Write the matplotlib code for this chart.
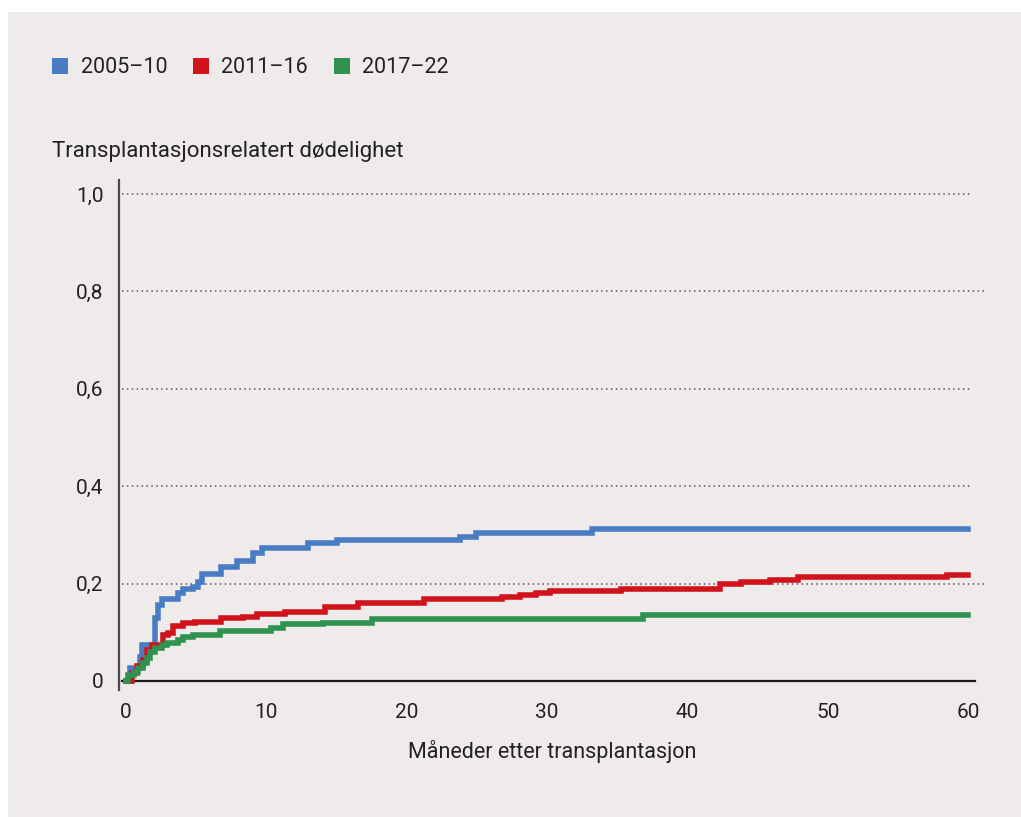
import matplotlib
matplotlib.use("Agg")
import matplotlib.pyplot as plt
from matplotlib.patches import Patch, Rectangle

# Cumulative transplant-related mortality
blue_t = [0, 0.3, 1.0, 1.15, 2.07, 2.3, 2.55, 3.7, 4.06, 4.8, 5.1, 5.4, 6.8, 7.9,
          9.05, 9.7, 13.0, 15.0, 23.8, 24.9, 33.2, 60]
blue_v = [0, 0.027, 0.05, 0.074, 0.13, 0.156, 0.168, 0.18, 0.188, 0.193, 0.203, 0.22,
          0.234, 0.247, 0.262, 0.273, 0.284, 0.29, 0.295, 0.304, 0.312, 0.312]

red_t = [0, 0.4, 0.8, 1.2, 1.5, 1.85, 2.6, 3.0, 3.35, 4.06, 4.9, 6.8, 8.3, 9.3, 11.3,
         14.2, 16.5, 21.2, 26.8, 28.1, 29.2, 30.2, 35.3, 42.3, 43.8, 45.9, 47.9, 58.5, 60]
red_v = [0, 0.016, 0.03, 0.043, 0.064, 0.074, 0.094, 0.098, 0.113, 0.119, 0.122, 0.129,
         0.132, 0.137, 0.142, 0.152, 0.16, 0.168, 0.172, 0.177, 0.18, 0.185, 0.189,
         0.199, 0.204, 0.207, 0.213, 0.218, 0.218]

green_t = [0, 0.15, 0.6, 0.85, 1.2, 1.5, 1.7, 2.07, 2.55, 2.9, 3.7, 4.06, 4.8, 6.7,
           10.3, 11.2, 14.0, 17.5, 36.8, 60]
green_v = [0, 0.012, 0.019, 0.027, 0.037, 0.047, 0.06, 0.067, 0.074, 0.078, 0.084, 0.09,
           0.094, 0.102, 0.108, 0.117, 0.119, 0.127, 0.136, 0.136]

labels = ["2005–10", "2011–16", "2017–22"]
colors = ["#4a7cc4", "#d1131d", "#2f9250"]

y_ticks = [0, 0.2, 0.4, 0.6, 0.8, 1.0]
y_ticklabels = ["0", "0,2", "0,4", "0,6", "0,8", "1,0"]
x_ticks = [0, 10, 20, 30, 40, 50, 60]

bg = "#eeebea"
plt.rcParams["font.family"] = ["Roboto", "DejaVu Sans"]

W, H = 1021, 817
fig = plt.figure(figsize=(W / 100, H / 100), dpi=100, facecolor="white")
fig.patches.append(Rectangle((8 / W, 0), 1, 1 - 12 / H, transform=fig.transFigure,
                             facecolor=bg, edgecolor="none", zorder=-10))

ax = fig.add_axes([119 / W, (H - 690) / H, (985 - 119) / W, (690 - 180) / H])
ax.patch.set_alpha(0)
ax.set_xlim(-0.5, 61.2)
ax.set_ylim(-0.0185, 1.029)

for s in ["top", "right", "bottom"]:
    ax.spines[s].set_visible(False)
ax.spines["left"].set_color("#4a4a4a")
ax.spines["left"].set_linewidth(1.6)

# dotted gridlines
for y in y_ticks[1:]:
    xr = 61.2 if y in (0.2, 0.8) else 60.3
    ax.plot([-0.3, xr], [y, y], color="#555555", lw=1.1, ls=(0, (1, 2.2)), zorder=1)
ax.plot([-0.3, 60.5], [0, 0], color="#1a1a1a", lw=1.6, zorder=2)

for t, v, c in zip([blue_t, red_t, green_t], [blue_v, red_v, green_v], colors):
    ax.step(t, v, where="post", color=c, lw=4.0, solid_joinstyle="miter", zorder=3)

ax.set_yticks(y_ticks)
ax.set_yticklabels(y_ticklabels)
ax.set_xticks(x_ticks)
ax.tick_params(length=0, labelsize=15, colors="#222222")
ax.tick_params(axis="y", pad=11)
ax.tick_params(axis="x", pad=9)
ax.set_xlabel("Måneder etter transplantasjon", fontsize=15.5, color="#222222", labelpad=13)

fig.text(52 / W, 1 - 152 / H, "Transplantasjonsrelatert dødelighet", fontsize=16,
         color="#222222", va="center", ha="left")

handles = [Patch(facecolor=c, edgecolor="none") for c in colors]
fig.legend(handles, labels, loc="upper left", bbox_to_anchor=(33 / W, 1 - 38 / H),
           ncol=3, frameon=False, fontsize=15.5, handlelength=0.72, handleheight=0.72,
           handletextpad=0.59, columnspacing=1.21, labelcolor="#222222")

fig.savefig("out.png", dpi=100, facecolor="white")
